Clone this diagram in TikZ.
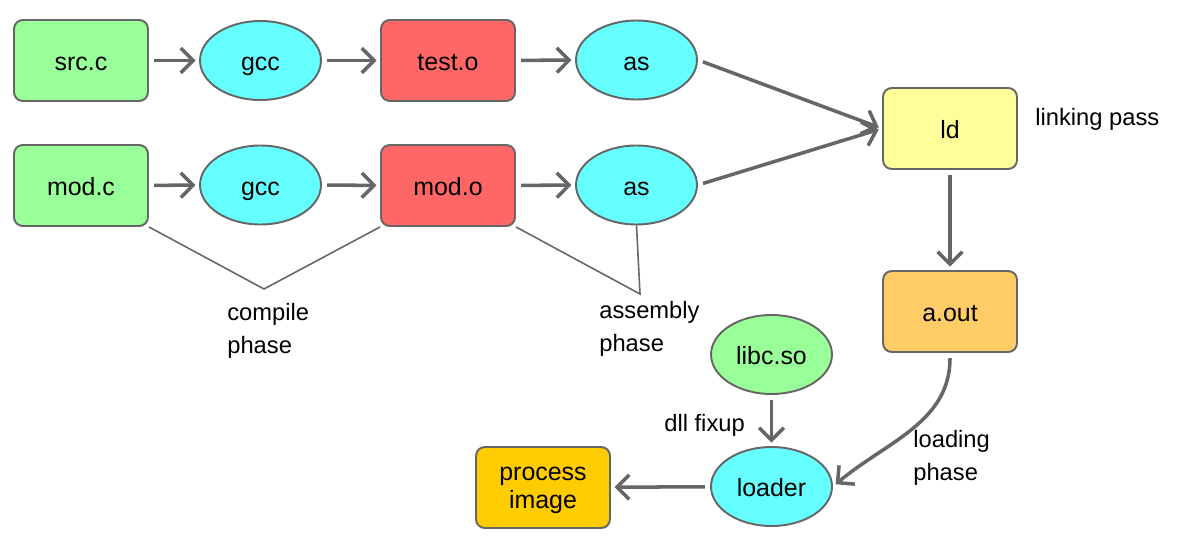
\documentclass[tikz,border=0pt]{standalone}
\usepackage{fontspec}
\setmainfont{Liberation Sans}
\usetikzlibrary{arrows.meta,shapes.geometric}
\definecolor{edge}{HTML}{666666}
\definecolor{srcgreen}{HTML}{99FF99}
\definecolor{toolcyan}{HTML}{66FFFF}
\definecolor{objred}{HTML}{FF6666}
\definecolor{ldyellow}{HTML}{FFFF99}
\definecolor{outorange}{HTML}{FFCC66}
\definecolor{imggold}{HTML}{FFCC00}
\begin{document}
\begin{tikzpicture}
		[x=0.02cm,y=-0.02cm,
		file/.style={rectangle,rounded corners=5pt,draw=edge,line width=1.1pt,minimum width=2.68cm,minimum height=1.62cm,align=center,text height=12.5pt,text depth=1pt,font=\fontsize{14.2}{14.5}\selectfont},
		tool/.style={ellipse,draw=edge,line width=1.1pt,fill=toolcyan,minimum width=2.42cm,minimum height=1.58cm,inner sep=0pt,text height=12.5pt,text depth=1pt,font=\fontsize{14.2}{14.5}\selectfont},
		flow/.style={draw=edge,line width=2pt,-{Straight Barb[length=7pt,width=14pt]},shorten <=3pt,shorten >=2pt},
		brace/.style={draw=edge,line width=0.9pt},
		plain/.style={align=left,inner sep=0pt,font=\fontsize{13.5}{18.8}\selectfont}
		]
		\useasboundingbox (0,0) rectangle (1182,554);
		% first source
		\node[file,fill=srcgreen] (srcc) at (81,60.5){src.c};
		\node[tool] (gcca) at (260.5,60.5){gcc};
		\node[file,fill=objred] (testo) at (448,60.5){test.o};
		\node[tool] (asa) at (636.5,60){as};
		% second source
		\node[file,fill=srcgreen] (modc) at (81,185.5){mod.c};
		\node[tool] (gccb) at (260.5,185){gcc};
		\node[file,fill=objred] (modo) at (448,185.5){mod.o};
		\node[tool] (asb) at (636.5,185){as};
		% link and load
		\node[file,fill=ldyellow] (ld) at (950,128.5){ld};
		\node[file,fill=outorange] (aout) at (950,311.5){a.out};
		\node[tool,fill=srcgreen] (libc) at (771.5,354.5){libc.so};
		\node[tool] (loader) at (771.5,486.5){loader};
		\node[file,fill=imggold,text height={},text depth=-2.5pt,font=\fontsize{14.2}{16}\selectfont] (image) at (543,487.5){process\\image};

\node[plain,anchor=west] (linking) at (1035,119){linking pass};
\node[plain,anchor=west] (compile) at (227,330.5){compile\\phase};
\node[plain,anchor=west] (assembly) at (599,328.5){assembly\\phase};
\node[plain,anchor=west] (fixup) at (664,425){dll fixup};
\node[plain,anchor=west] (loading) at (913,457.5){loading\\phase};

\coordinate (compiletip) at (264,289);
\coordinate (assemblytip) at (640,294);

		\draw[flow] (srcc) -- (gcca);
		\draw[flow] (gcca) -- (testo);
		\draw[flow] (testo) -- (asa);
		\draw[flow] (modc) -- (gccb);
		\draw[flow] (gccb) -- (modo);
		\draw[flow] (modo) -- (asb);
		\draw[flow] (asa.east) -- (ld.west);
		\draw[flow] (asb.east) -- (ld.west);
		\draw[flow] (ld) -- (aout);
		\draw[flow] (aout.south) to[out=-90,in=40] (loader.east);
		\draw[flow] (libc) -- (loader);
		\draw[flow] (loader) -- (image);
		\draw[brace] (modc.south east) -- (compiletip) -- (modo.south west);
		\draw[brace] (modo.south east) -- (assemblytip) -- (asb.south);
	\end{tikzpicture}
\end{document}
